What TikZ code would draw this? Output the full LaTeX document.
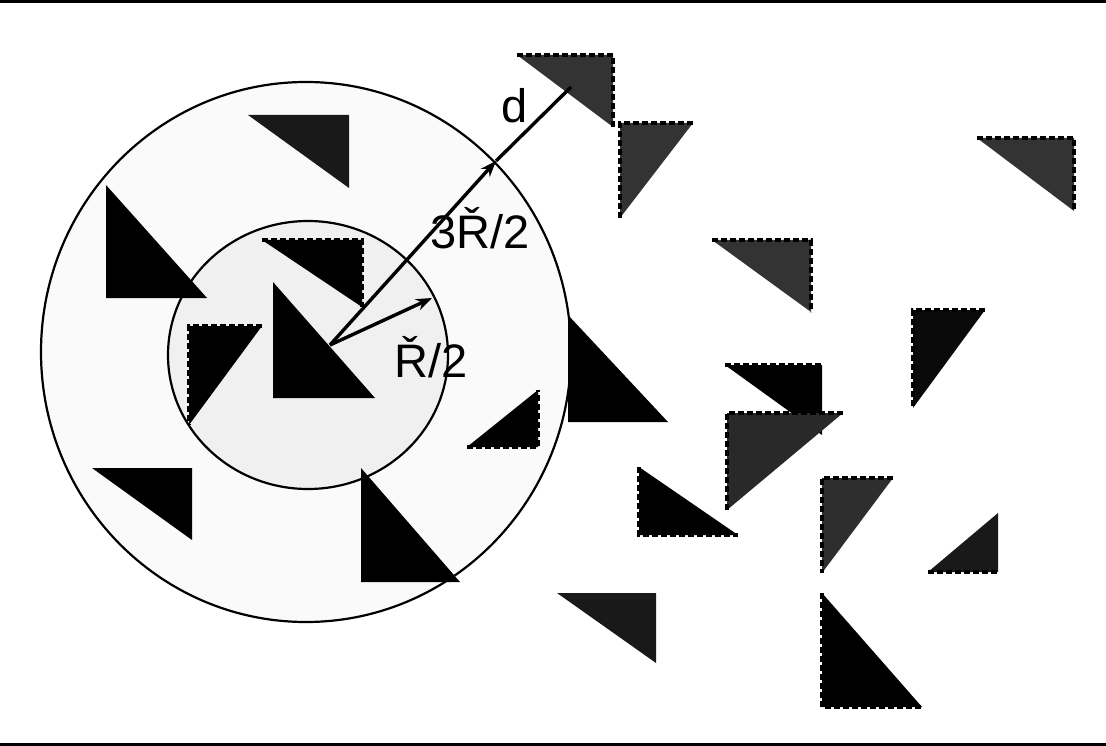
\documentclass[tikz,border=0pt]{standalone}
\usepackage{fontspec}
\setmainfont{Liberation Sans}
\usetikzlibrary{arrows.meta}
\begin{document}
\begin{tikzpicture}[x=1pt,y=-1pt,
  rim/.style={draw=black, line width=2.2pt},
  leg/.style={draw=black, line width=3.4pt, dash pattern=on 6pt off 3pt},
  arr/.style={line width=3.4pt, -{Stealth[length=16pt,width=12pt]}},
  lab/.style={anchor=base west, inner sep=0pt, font=\fontsize{47}{50}\selectfont}]
\useasboundingbox (0,0) rectangle (1106,746);
% rules
\draw[line width=3pt] (0,1.5) -- (1106,1.5);
\draw[line width=3pt] (0,744.5) -- (1106,744.5);
% circles
\fill[black!2] (306,352) ellipse [x radius=265pt, y radius=270pt];
\fill[black!6] (308,355) ellipse [x radius=140pt, y radius=134pt];
\draw[rim] (306,352) ellipse [x radius=265pt, y radius=270pt];
\draw[rim] (308,355) ellipse [x radius=140pt, y radius=134pt];
% triangles inside
\fill[black!90] (248,115) -- (349,115) -- (349,188) -- cycle;
\fill[black] (106,185) -- (106,298) -- (207,298) -- cycle;
\fill[black] (262,240) -- (362,240) -- (362,307) -- cycle;
\draw[leg] (262,240) -- (362,240) -- (362,307);
\fill[black] (273,282) -- (273,398) -- (375,398) -- cycle;
\fill[black] (262,326) -- (189,326) -- (189,425) -- cycle;
\draw[leg] (262,326) -- (189,326) -- (189,425);
\fill[black] (92,468) -- (192,468) -- (192,540) -- cycle;
\fill[black] (361,468) -- (361,582) -- (460,582) -- cycle;
\fill[black] (467,447) -- (538,447) -- (538,390) -- cycle;
\draw[leg] (467,447) -- (538,447) -- (538,390);
\fill[black] (568,315) -- (568,422) -- (668,422) -- cycle;
% triangles outside
\fill[black!80] (517,55) -- (613,55) -- (613,127) -- cycle;
\draw[leg] (517,55) -- (613,55) -- (613,127);
\fill[black!80] (693,123) -- (620,123) -- (620,218) -- cycle;
\draw[leg] (693,123) -- (620,123) -- (620,218);
\fill[black!80] (977,138) -- (1074,138) -- (1074,211) -- cycle;
\draw[leg] (977,138) -- (1074,138) -- (1074,211);
\fill[black!80] (712,240) -- (811,240) -- (811,312) -- cycle;
\draw[leg] (712,240) -- (811,240) -- (811,312);
\fill[black!96] (985,310) -- (913,310) -- (913,408) -- cycle;
\draw[leg] (985,310) -- (913,310) -- (913,408);
\fill[black] (725,365) -- (822,365) -- (822,435) -- cycle;
\draw[leg] (725,365) -- (822,365);
\fill[black!84] (843,413) -- (727,413) -- (727,510) -- cycle;
\draw[leg] (843,413) -- (727,413) -- (727,510);
\fill[black] (639,467) -- (639,535) -- (738,535) -- cycle;
\draw[leg] (639,467) -- (639,535) -- (738,535);
\fill[black!82] (893,478) -- (822,478) -- (822,573) -- cycle;
\draw[leg] (893,478) -- (822,478) -- (822,573);
\fill[black!90] (928,572) -- (998,572) -- (998,513) -- cycle;
\draw[leg] (928,572) -- (998,572);
\fill[black] (822,593) -- (822,707) -- (922,707) -- cycle;
\draw[leg] (822,593) -- (822,707) -- (922,707);
\fill[black!90] (557,593) -- (656,593) -- (656,663) -- cycle;
% arrows
\coordinate (o) at (330,345);
\coordinate (p) at (496,161);
\coordinate (q) at (432,298);
\coordinate (dend) at (571,87);
\draw[arr] (o) -- (p);
\draw[arr] (o) -- (q);
\draw[line width=3.4pt] (p) -- (dend);
% labels
\node[lab] (ld) at (501,123) {d};
\node[lab] (l3) at (430,248) {3Ř/2};
\node[lab] (l1) at (394,377) {Ř/2};
\end{tikzpicture}
\end{document}
